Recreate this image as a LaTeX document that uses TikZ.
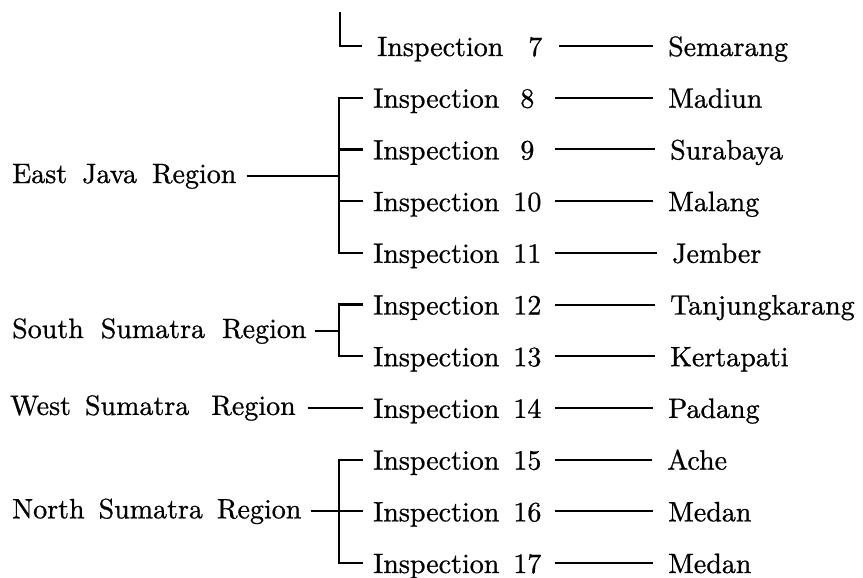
\documentclass[tikz,border=0pt]{standalone}
\usepackage{fontspec}
\newfontfamily\lmtenfam{lmroman10-regular.otf}[FakeBold=0.8]
\newcommand{\diagfont}{\lmtenfam\fontsize{28}{32}\selectfont}
\begin{document}
\begin{tikzpicture}[x=1pt,y=-1pt,
  every node/.style={font=\diagfont, inner sep=0pt},
  reg/.style={anchor=west, text height=14pt, text depth=0pt},
  ins/.style={anchor=west, text height=20pt, text depth=0pt},
  city/.style={anchor=west, text height=20pt, text depth=0pt},
  br/.style={line width=2.2pt},
  ln/.style={line width=2pt}]
\useasboundingbox (0,0) rectangle (863,578);
% inspection nodes
\node[ins] (i7)  at (377,46.0)  {Inspection\hspace{17pt}\makebox[30pt]{7}};
\node[ins] (i8)  at (373,97.7)  {Inspection\hspace{13pt}\makebox[30pt]{8}};
\node[ins] (i9)  at (373,149.4) {Inspection\hspace{13pt}\makebox[30pt]{9}};
\node[ins] (i10) at (373,201.1) {Inspection\hspace{13pt}\makebox[30pt]{10}};
\node[ins] (i11) at (373,252.8) {Inspection\hspace{13pt}\makebox[30pt]{11}};
\node[ins] (i12) at (373,304.5) {Inspection\hspace{13pt}\makebox[30pt]{12}};
\node[ins] (i13) at (373,356.2) {Inspection\hspace{13pt}\makebox[30pt]{13}};
\node[ins] (i14) at (373,407.9) {Inspection\hspace{13pt}\makebox[30pt]{14}};
\node[ins] (i15) at (373,459.6) {Inspection\hspace{13pt}\makebox[30pt]{15}};
\node[ins] (i16) at (373,511.3) {Inspection\hspace{13pt}\makebox[30pt]{16}};
\node[ins] (i17) at (373,563.0) {Inspection\hspace{13pt}\makebox[30pt]{17}};
% city nodes
\node[city] (c7)  at (668,46.0)  {Semarang};
\node[city] (c8)  at (668,97.7)  {Madiun};
\node[city] (c9)  at (670,149.4) {Surabaya};
\node[city] (c10) at (668,201.1) {Malang};
\node[city] (c11) at (672,252.8) {Jember};
\node[city] (c12) at (670,304.5) {Tanjungkarang};
\node[city] (c13) at (670,356.2) {Kertapati};
\node[city] (c14) at (668,407.9) {Padang};
\node[city] (c15) at (667,459.6) {Ache};
\node[city] (c16) at (668,511.3) {Medan};
\node[city] (c17) at (668,563.0) {Medan};
% region nodes
\node[reg] (ej) at (12,176.0) {East\hspace{15pt}Java\hspace{15pt}Region};
\node[reg] (ss) at (12,331.0) {South\hspace{17pt}Sumatra\hspace{17pt}Region};
\node[reg] (ws) at (10,407.9) {West\hspace{14pt}Sumatra\hspace{22pt}Region};
\node[reg] (ns) at (12,511.3) {North\hspace{14pt}Sumatra\hspace{14pt}Region};
% bracket coordinates
\coordinate (top7) at (340,12);
\coordinate (ejm) at (339,176.0);
\coordinate (ssm) at (339,331.0);
\coordinate (nsm) at (339,511.3);
% inspection to city lines
\draw[ln] ([xshift=8pt]i7.east) -- ([xshift=-15pt]c7.west);
\foreach \k in {8,...,17}{
  \draw[ln] ([xshift=12pt]i\k.east) -- ([xshift=-15pt]c\k.west);
}
% row 7 L
\draw[br] (top7) |- ([xshift=-15pt]i7.west);
% East Java
\draw[br] ([xshift=-10pt]i8.west) -| (ejm) |- ([xshift=-10pt]i11.west);
\draw[br] ([xshift=-10pt]i9.west) -- (i9.west -| ejm);
\draw[br] ([xshift=-10pt]i10.west) -- (i10.west -| ejm);
\draw[ln] ([xshift=10pt]ej.east) -- (ejm);
% South Sumatra
\draw[br] ([xshift=-10pt]i12.west) -| (ssm) |- ([xshift=-10pt]i13.west);
\draw[ln] ([xshift=8pt]ss.east) -- (ssm);
% West Sumatra
\draw[ln] ([xshift=12pt]ws.east) -- ([xshift=-10pt]i14.west);
% North Sumatra
\draw[br] ([xshift=-10pt]i15.west) -| (nsm) |- ([xshift=-10pt]i17.west);
\draw[ln] ([xshift=9pt]ns.east) -- ([xshift=-10pt]i16.west);
\end{tikzpicture}
\end{document}
